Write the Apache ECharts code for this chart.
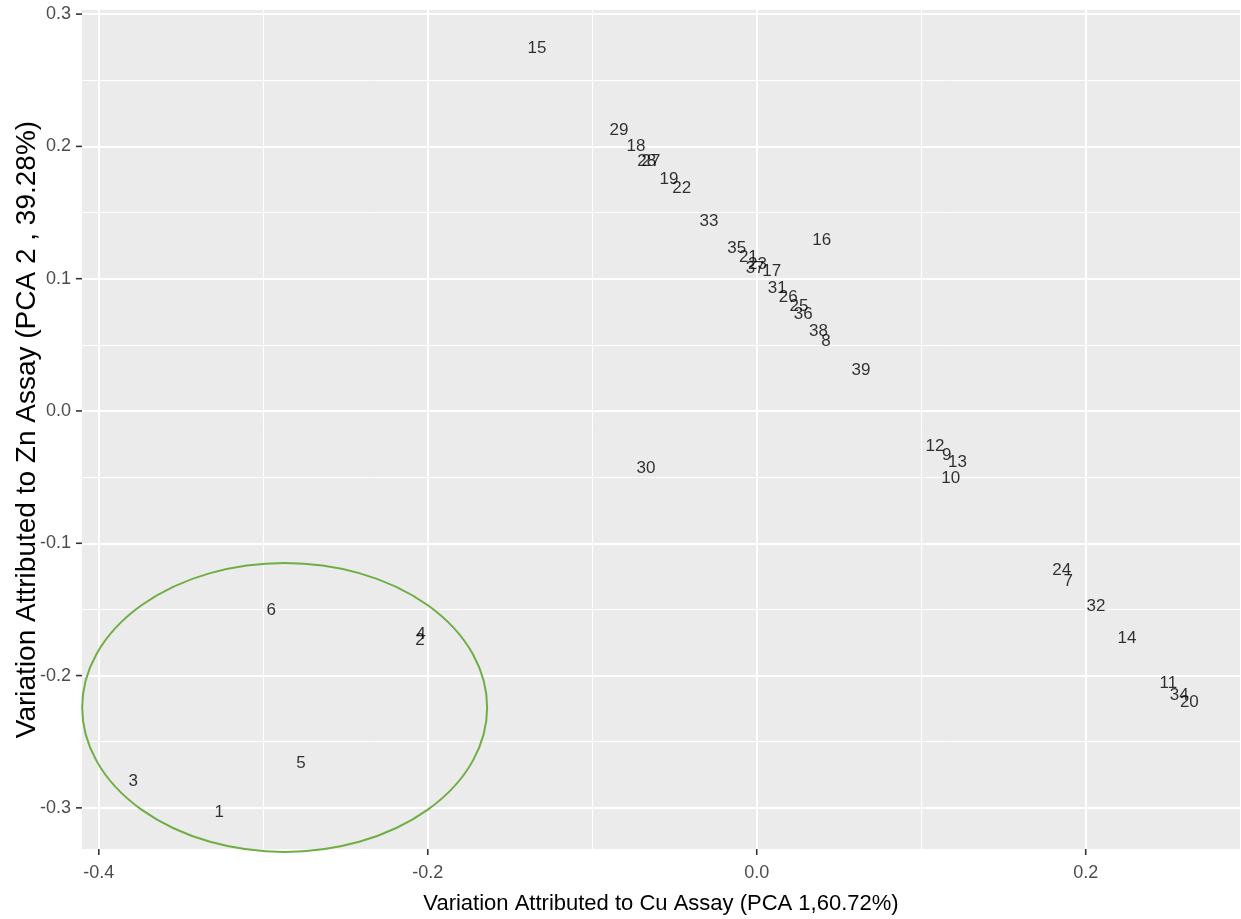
<!DOCTYPE html>
<html>
<head>
<meta charset="utf-8">
<script src="https://cdn.jsdelivr.net/npm/echarts@6/dist/echarts.min.js"></script>
<style>html,body{margin:0;padding:0;background:#fff}#c{width:1241px;height:919px}</style>
</head>
<body>
<div id="c"></div>
<script>
// ---- data ----
var sampleIds = ['1','2','3','4','5','6','7','8','9','10','11','12','13','14','15','16','17','18','19','20',
  '21','22','23','24','25','26','27','28','29','30','31','32','33','34','35','36','37','38','39'];
var pca1 = [-0.3268,-0.2047,-0.3791,-0.2041,-0.2770,-0.2952,0.1894,0.0421,0.1155,0.1179,
  0.2502,0.1084,0.1220,0.2251,-0.1336,0.0395,0.0091,-0.0734,-0.0533,0.2630,
  -0.0051,-0.0456,0.0004,0.1854,0.0257,0.0192,-0.0643,-0.0669,-0.0837,-0.0673,
  0.0125,0.2063,-0.0290,0.2569,-0.0122,0.0283,-0.0010,0.0375,0.0634];
var pca2 = [-0.3031,-0.1731,-0.2797,-0.1688,-0.2661,-0.1504,-0.1290,0.0524,-0.0333,-0.0509,
  -0.2059,-0.0270,-0.0391,-0.1716,0.2744,0.1293,0.1053,0.2003,0.1754,-0.2205,
  0.1159,0.1684,0.1109,-0.1202,0.0794,0.0857,0.1885,0.1885,0.2124,-0.0431,
  0.0928,-0.1474,0.1436,-0.2147,0.1230,0.0731,0.1079,0.0605,0.0310];
var xTicks = [-0.4, -0.2, 0.0, 0.2];
var xMinor = [-0.3, -0.1, 0.1];
var yTicks = [-0.3, -0.2, -0.1, 0.0, 0.1, 0.2, 0.3];
var yMinor = [-0.25, -0.15, -0.05, 0.05, 0.15, 0.25];
// highlighted group ellipse: centre x, centre y, radius x, radius y (data units)
var groupEllipse = [-0.2870, -0.2241, 0.1231, 0.1092];

var X_MIN = -0.4102, X_MAX = 0.2938, Y_MIN = -0.3311, Y_MAX = 0.3031;
var FONT = '"Liberation Sans", Arial, Helvetica, sans-serif';
var points = sampleIds.map(function (id, i) { return { name: id, value: [pca1[i], pca2[i]] }; });

function gridLines(vals, axisKey, width) {
  return vals.map(function (v) { var o = {}; o[axisKey] = v; o.lineStyle = { color: '#ffffff', width: width, type: 'solid' }; return o; });
}
var TICK_STYLE = { stroke: '#333333', lineWidth: 1.6 };

var chart = echarts.init(document.getElementById('c'), null, { renderer: 'canvas' });
chart.setOption({
  animation: false,
  backgroundColor: '#ffffff',
  grid: { left: 82, right: 1, top: 10, bottom: 70, show: true, backgroundColor: '#EBEBEB', borderWidth: 0,
    containLabel: false, outerBoundsMode: 'none' },
  xAxis: {
    type: 'value', min: X_MIN, max: X_MAX,
    axisLine: { show: false, onZero: false },
    splitLine: { show: false },
    axisTick: { show: false },
    axisLabel: { customValues: xTicks, color: '#4D4D4D', fontSize: 18, fontFamily: FONT, margin: 15,
      formatter: function (v) { return v.toFixed(1); } },
    name: 'Variation Attributed to Cu Assay (PCA 1,60.72%)',
    nameLocation: 'middle', nameGap: 44,
    nameTextStyle: { color: '#000000', fontSize: 22, fontFamily: FONT }
  },
  yAxis: {
    type: 'value', min: Y_MIN, max: Y_MAX,
    axisLine: { show: false, onZero: false },
    splitLine: { show: false },
    axisTick: { show: false },
    axisLabel: { customValues: yTicks, color: '#4D4D4D', fontSize: 18, fontFamily: FONT, margin: 11,
      formatter: function (v) { return v.toFixed(1); } },
    name: 'Variation Attributed to Zn Assay (PCA 2 , 39.28%)',
    nameLocation: 'middle', nameGap: 41, nameRotate: 90, nameMoveOverlap: false,
    nameTextStyle: { color: '#000000', fontSize: 28, fontFamily: FONT }
  },
  series: [
    {
      type: 'scatter', data: [], silent: true, z: 1,
      markLine: {
        z: 1, silent: true, symbol: 'none', animation: false, label: { show: false },
        emphasis: { disabled: true },
        data: [].concat(gridLines(xMinor, 'xAxis', 1), gridLines(yMinor, 'yAxis', 1),
                        gridLines(xTicks, 'xAxis', 2), gridLines(yTicks, 'yAxis', 2))
      }
    },
    {
      // x-axis tick marks
      type: 'custom', z: 8, silent: true, clip: false,
      data: xTicks.map(function (v) { return [v]; }),
      renderItem: function (params, api) {
        var p = api.coord([api.value(0), Y_MIN]);
        return { type: 'line', shape: { x1: p[0], y1: p[1], x2: p[0], y2: p[1] + 6 }, style: TICK_STYLE };
      }
    },
    {
      // y-axis tick marks
      type: 'custom', z: 8, silent: true, clip: false,
      data: yTicks.map(function (v) { return [X_MIN, v]; }),
      renderItem: function (params, api) {
        var p = api.coord([api.value(0), api.value(1)]);
        return { type: 'line', shape: { x1: p[0] - 6, y1: p[1], x2: p[0], y2: p[1] }, style: TICK_STYLE };
      }
    },
    {
      type: 'scatter', z: 6, silent: true,
      symbolSize: 1,
      itemStyle: { color: 'rgba(0,0,0,0)' },
      data: points,
      label: {
        show: true, position: 'inside', color: '#000000', fontSize: 17, fontFamily: FONT,
        formatter: function (p) { return p.name; }
      },
      labelLayout: { hideOverlap: false }
    },
    {
      type: 'custom', z: 7, silent: true, clip: false,
      data: [groupEllipse],
      renderItem: function (params, api) {
        var c = api.coord([api.value(0), api.value(1)]);
        var s = api.size([api.value(2), api.value(3)]);
        var rx = s[0], ry = s[1];
        var d = 'M ' + (c[0] - rx) + ' ' + c[1] +
          ' A ' + rx + ' ' + ry + ' 0 1 0 ' + (c[0] + rx) + ' ' + c[1] +
          ' A ' + rx + ' ' + ry + ' 0 1 0 ' + (c[0] - rx) + ' ' + c[1] + ' Z';
        return {
          type: 'path',
          shape: { pathData: d },
          style: { fill: 'none', stroke: '#6FAD45', lineWidth: 2 }
        };
      }
    }
  ]
});
</script>
</body>
</html>
